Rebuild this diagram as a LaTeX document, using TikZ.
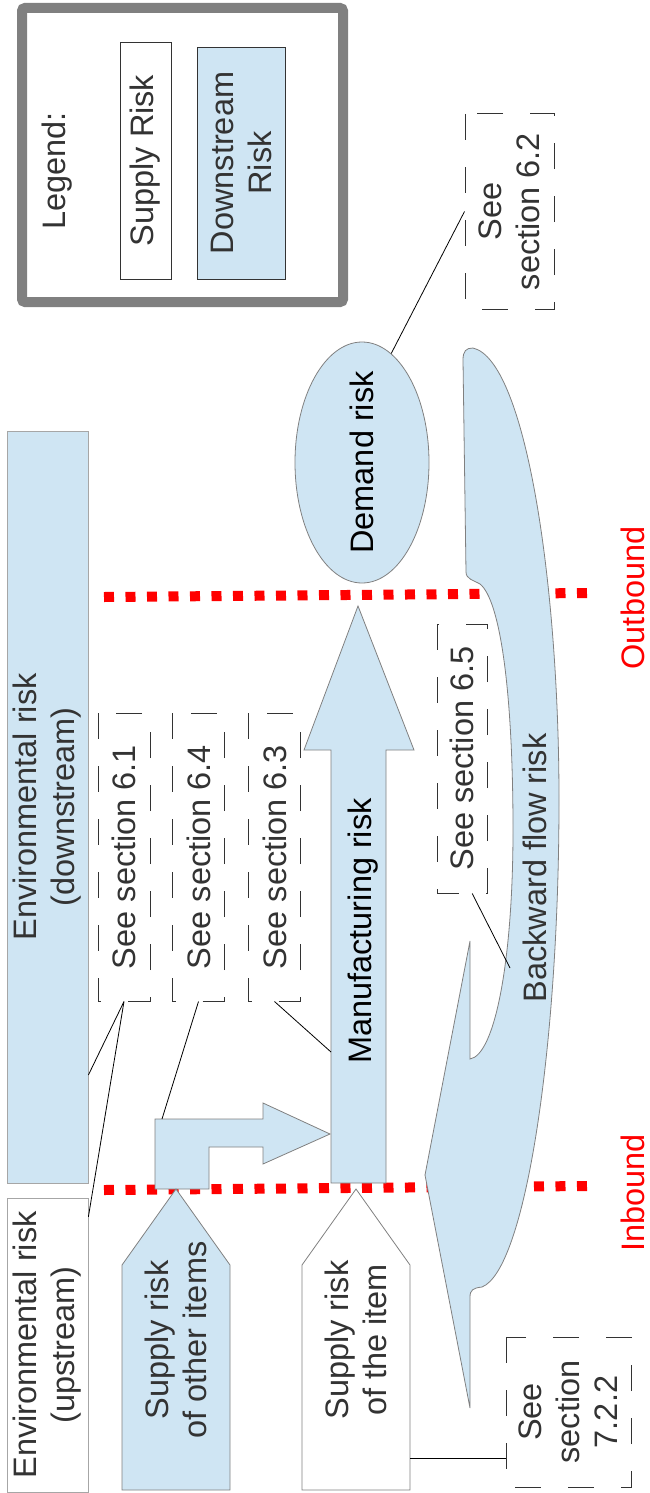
\documentclass[tikz,border=0pt]{standalone}
\usepackage{fontspec}
\setmainfont{Liberation Sans}
\usetikzlibrary{shapes.geometric,calc}
\definecolor{riskblue}{HTML}{CFE5F3}
\definecolor{edgegray}{HTML}{808080}
\definecolor{textgray}{HTML}{333333}
\begin{document}
\begin{tikzpicture}[x=1pt,y=-1pt,
  every node/.style={font=\fontsize{32.5}{38}\selectfont, text=textgray, inner sep=0pt},
  vtext/.style={rotate=90, align=center},
  riskbox/.style={vtext, draw=edgegray, line width=0.8pt},
  seebox/.style={vtext, draw=textgray, line width=1pt, dash pattern=on 26pt off 27pt},
  boundary/.style={red, line width=10pt, dash pattern=on 10pt off 11.5pt},
  riskshape/.style={fill=riskblue, draw=edgegray, line width=0.8pt},
  leader/.style={black, line width=0.8pt}]
\useasboundingbox (0,0) rectangle (650,1493);
% legend
\begin{scope}
  \draw[edgegray, line width=10pt, rounded corners=3pt] (22,8) rectangle (343,302);
  \node[vtext] (legend) at (57,171) {Legend:};
  \node[riskbox, draw=textgray, fill=white, minimum width=237pt, minimum height=51pt] (supplyleg) at (145.5,160.5) {Supply Risk};
  \node[riskbox, draw=textgray, fill=riskblue, minimum width=232pt, minimum height=88pt] (downleg) at (241,163) {Downstream\\Risk};
\end{scope}
% environment
\node[riskbox, draw=edgegray!70, fill=riskblue, minimum width=752pt, minimum height=81pt] (envdown) at (47.5,807) {Environmental risk\\(downstream)};
\node[riskbox, draw=edgegray!70, fill=white, minimum width=294pt, minimum height=81pt] (envup) at (47.5,1345) {Environmental risk\\(upstream)};
% inbound / outbound
\draw[boundary] (104,597) -- (588,593);
\draw[boundary] (104,1190) -- (588,1186);
\node[vtext, text=red] (outbound) at (633,598) {Outbound};
\node[vtext, text=red] (inbound) at (633,1193) {Inbound};
% flows
\draw[riskshape] (331,1183) -- (331,750) -- (304,750) -- (358,606) -- (414,750) -- (386,750) -- (386,1183) -- cycle;
\node[vtext, text=black] (manuf) at (363,931) {Manufacturing risk};
\draw[riskshape] (155,1189) -- (155,1119) -- (263,1119) -- (263,1103) -- (330,1134) -- (263,1164) -- (263,1147) -- (209,1147) -- (209,1189) -- cycle;
\draw[riskshape] (122,1490) -- (122,1265) -- (176,1189) -- (230,1265) -- (230,1490) -- cycle;
\node[vtext] (other) at (175.5,1340) {Supply risk\\of other items};
\draw[riskshape, fill=white] (302,1490) -- (302,1265) -- (356,1189) -- (410,1265) -- (410,1490) -- cycle;
\node[vtext] (item) at (356,1340) {Supply risk\\of the item};
\draw[riskshape] (463,360) .. controls (463,351) and (466,348) .. (473,348)
  .. controls (525,360) and (559,580) .. (559,800)
  .. controls (559,1050) and (525,1270) .. (482,1287)
  .. controls (473,1288) and (470,1290) .. (470,1297) -- (470,1408) -- (425,1175) -- (470,941) -- (470,1059)
  .. controls (495,1055) and (513,960) .. (513,830)
  .. controls (513,690) and (500,600) .. (480,584)
  .. controls (473,580) and (466,579) .. (466,572) -- cycle;
\node[vtext] (backflow) at (535,868) {Backward flow risk};
\node[riskbox, ellipse, fill=riskblue, minimum width=241pt, minimum height=134pt] (demand) at (362,462.5) {};
\node[vtext, text=black] (demandtext) at (demand.center) {Demand risk};
% sections
\node[seebox, minimum width=195pt, minimum height=89pt] (demandsec) at (509.5,211.5) {See\\section 6.2};
\foreach \id/\n/\xc in {envsec/6.1/124, othersec/6.4/198.5, manufsec/6.3/274.5}
  \node[seebox, minimum width=288pt, minimum height=52pt] (\id) at (\xc,857) {See section \n};
\node[seebox, minimum width=269pt, minimum height=50pt] (backsec) at (462,758.5) {See section 6.5};
\node[seebox, minimum width=150pt, minimum height=125pt] (itemsec) at (568.5,1412) {See\\section\\7.2.2};
\coordinate (bendtop) at (162,1119);
\coordinate (shaftleft) at (331,1052);
\coordinate (backinner) at (510,968);
\coordinate (itemedge) at (410,1458);
\draw[leader] (demand.-15) -- (demandsec.north);
\draw[leader] (envsec.west) -- ($(envdown.south west)!0.144!(envdown.south east)$);
\draw[leader] (envsec.west) -- ($(envup.south east)!0.065!(envup.south west)$);
\draw[leader] (othersec.west) -- (bendtop);
\draw[leader] (manufsec.west) -- (shaftleft);
\draw[leader] ($(backsec.south west)!0.3!(backsec.north west)$) -- (backinner);
\draw[leader] (itemedge) -- (itemedge -| itemsec.north);
\end{tikzpicture}
\end{document}
